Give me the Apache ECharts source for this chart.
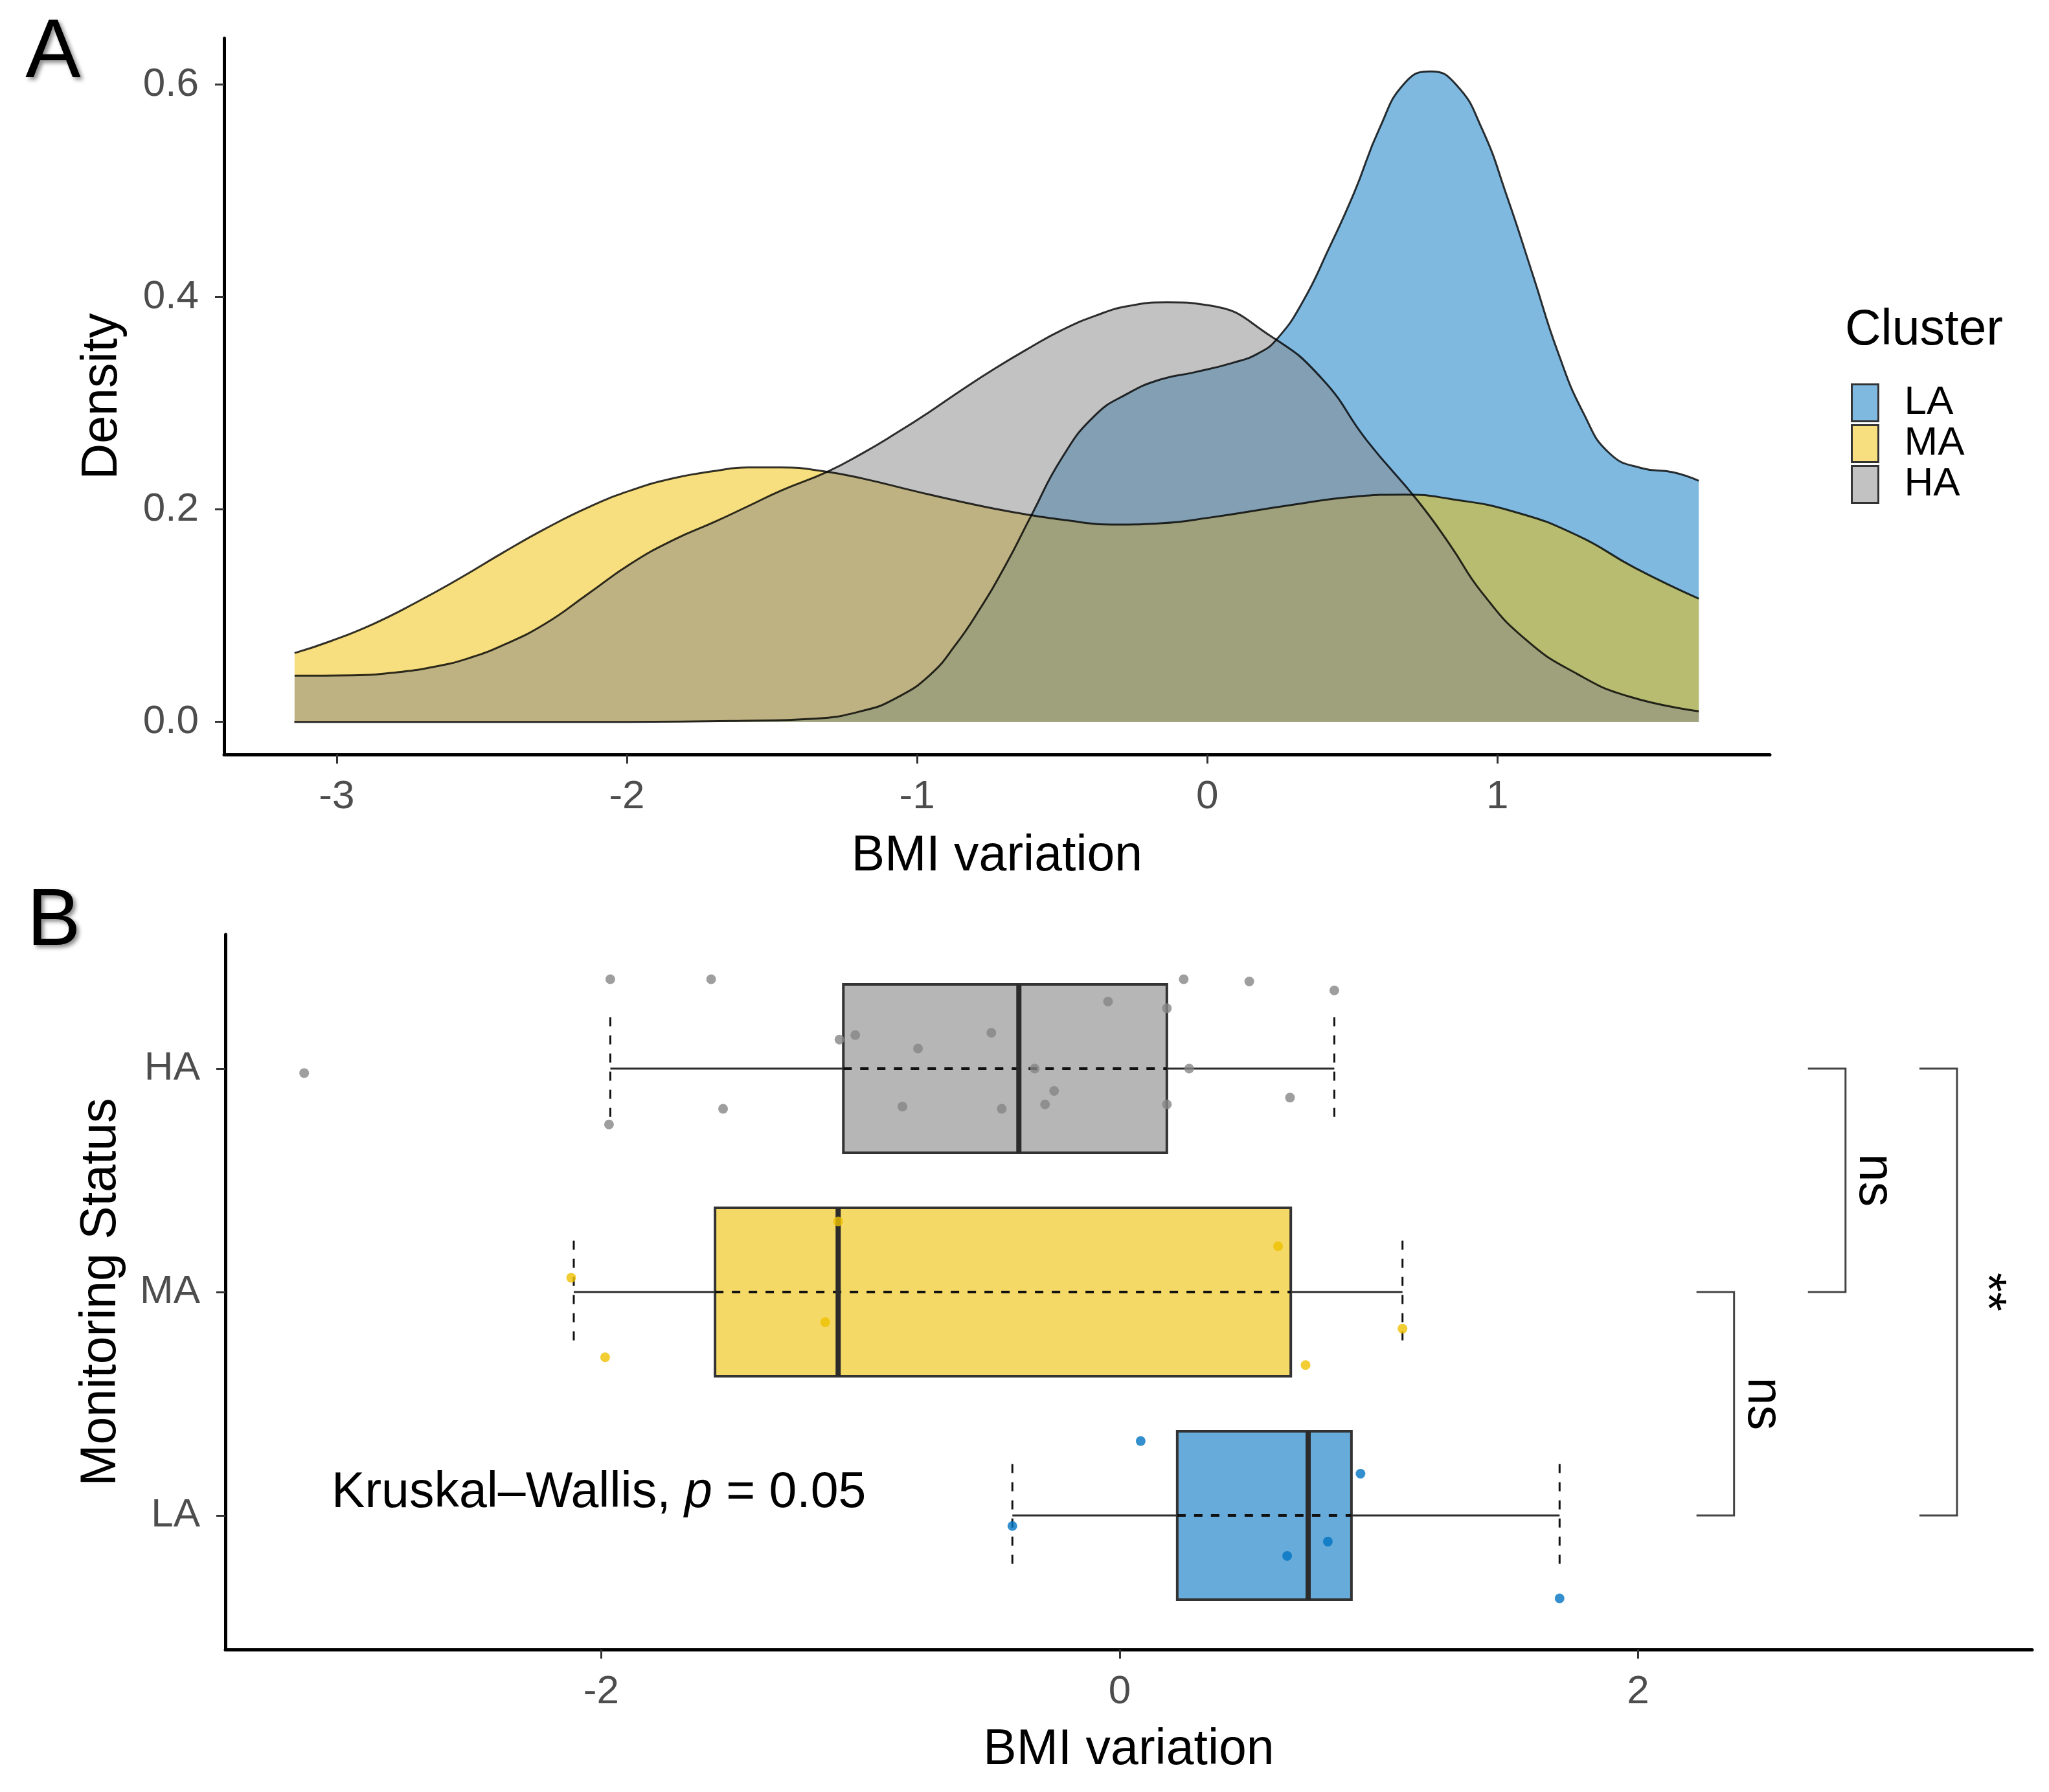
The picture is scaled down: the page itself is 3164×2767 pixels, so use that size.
<!DOCTYPE html>
<html>
<head>
<meta charset="utf-8">
<script src="https://cdn.jsdelivr.net/npm/echarts@6/dist/echarts.min.js"></script>
<style>
  html, body { margin: 0; padding: 0; background: #fff; }
  #chart { width: 3164px; height: 2767px; }
</style>
</head>
<body>
<div id="chart"></div>
<script>
// ---- panel A: density curves ----
const laX = [-3.146, -2.5, -2.0, -1.6, -1.356, -1.185, -1.071, -0.957, -0.866, -0.787, -0.696, -0.605, -0.502, -0.389, -0.275, -0.161, -0.047, 0.087, 0.176, 0.242, 0.33, 0.418, 0.506, 0.594, 0.682, 0.77, 0.858, 0.946, 1.034, 1.122, 1.21, 1.298, 1.386, 1.496, 1.606, 1.694];
const laY = [0, 0, 0, 0.001, 0.003, 0.0106, 0.0226, 0.0438, 0.073, 0.1048, 0.147, 0.195, 0.248, 0.288, 0.309, 0.3224, 0.329, 0.338, 0.347, 0.361, 0.396, 0.445, 0.498, 0.559, 0.602, 0.6125, 0.6, 0.559, 0.494, 0.421, 0.347, 0.29, 0.253, 0.239, 0.235, 0.227];
const maX = [-3.145, -3.021, -2.873, -2.725, -2.577, -2.429, -2.282, -2.133, -1.986, -1.838, -1.697, -1.583, -1.469, -1.31, -1.185, -1.014, -0.843, -0.673, -0.446, -0.332, -0.161, 0.01, 0.286, 0.506, 0.682, 0.836, 1.056, 1.276, 1.474, 1.694];
const maY = [0.0648, 0.076, 0.0923, 0.1126, 0.135, 0.159, 0.1817, 0.202, 0.218, 0.2295, 0.2362, 0.2396, 0.2396, 0.2354, 0.229, 0.2177, 0.207, 0.1977, 0.1884, 0.1857, 0.187, 0.1924, 0.204, 0.212, 0.214, 0.21, 0.198, 0.1755, 0.145, 0.116];
const haX = [-3.145, -2.947, -2.799, -2.651, -2.547, -2.429, -2.282, -2.133, -1.986, -1.838, -1.697, -1.583, -1.469, -1.31, -1.185, -1.071, -0.957, -0.843, -0.730, -0.616, -0.502, -0.389, -0.275, -0.138, 0.01, 0.22, 0.396, 0.55, 0.726, 0.836, 0.946, 1.10, 1.276, 1.452, 1.694];
const haY = [0.0435, 0.0439, 0.0465, 0.0526, 0.0598, 0.072, 0.0923, 0.1207, 0.149, 0.1715, 0.1884, 0.203, 0.2177, 0.2354, 0.2534, 0.272, 0.2919, 0.3131, 0.333, 0.3516, 0.3688, 0.382, 0.3914, 0.395, 0.392, 0.363, 0.323, 0.265, 0.208, 0.167, 0.122, 0.077, 0.045, 0.024, 0.010];
const densityTicksX = [-3, -2, -1, 0, 1];
const densityTicksY = [0, 0.2, 0.4, 0.6];

// ---- panel B: boxplot stats + jittered points ----
const groups = ['LA', 'MA', 'HA'];
const whiskerLow = [-0.414, -2.106, -1.965];
const q1 = [0.222, -1.561, -1.066];
const median = [0.727, -1.086, -0.389];
const q3 = [0.894, 0.66, 0.182];
const whiskerHigh = [1.697, 1.091, 0.828];

const laPtsX = [0.081, 0.929, -0.414, 0.803, 0.646, 1.697];
const laPtsY = [1.333, 1.187, 0.953, 0.883, 0.819, 0.629];
const maPtsX = [-2.116, -1.985, -1.136, -1.086, 0.611, 0.717, 1.091];
const maPtsY = [2.064, 1.708, 1.865, 2.316, 2.205, 1.673, 1.836];
const haPtsX = [-1.965, -1.576, -3.146, -1.530, -1.970, -1.081, -1.020, -0.778, -0.838, -0.495, -0.455, -0.328, -0.288, -0.253, -0.045, 0.182, 0.182, 0.247, 0.268, 0.5, 0.657, 0.828];
const haPtsY = [3.40, 3.40, 2.98, 2.82, 2.75, 3.13, 3.15, 3.09, 2.83, 3.16, 2.82, 3.00, 2.84, 2.90, 3.30, 3.27, 2.84, 3.40, 3.00, 3.39, 2.87, 3.35];
const boxTicksX = [-2, 0, 2];

// pairwise comparisons
const bracketLow = [1, 2, 1];
const bracketHigh = [2, 3, 3];
const bracketX = [2.37, 2.80, 3.23];
const bracketLabels = ['ns', 'ns', '**'];

const FONT = 'Liberation Sans, Arial, sans-serif';
const densityFill = { LA: 'rgba(0,115,194,0.5)', MA: 'rgba(239,192,0,0.5)', HA: 'rgba(134,134,134,0.5)' };
const legendFill = { LA: '#7FB9E0', MA: '#F7DF7F', HA: '#C2C2C2' };
const boxFill = ['#66ABDA', '#F5D966', '#B6B6B6'];
const pointColor = ['#0073C2', '#EFC000', '#868686'];

const zip = (xs, ys) => xs.map((x, i) => [x, ys[i]]);

const chart = echarts.init(document.getElementById('chart'));

function axisCommon(extra) {
  return Object.assign({
    axisLine: { onZero: false, lineStyle: { color: '#000', width: 5 } },
    splitLine: { show: false },
    nameLocation: 'middle',
    nameTextStyle: { fontSize: 77, color: '#000', fontFamily: FONT }
  }, extra);
}

function ticks(values) {
  return { show: true, length: 14, lineStyle: { color: '#333', width: 3 }, customValues: values };
}

function densitySeries(name, xs, ys) {
  return {
    name: name,
    type: 'line',
    xAxisIndex: 0,
    yAxisIndex: 0,
    smooth: 0.5,
    showSymbol: false,
    symbol: 'none',
    data: zip(xs, ys),
    lineStyle: { color: 'rgba(0,0,0,0.8)', width: 3 },
    itemStyle: { color: legendFill[name] },
    areaStyle: { color: densityFill[name], opacity: 1 },
    silent: true
  };
}

function renderBox(params, api) {
  const cat = api.value(0);
  const lo = api.value(1), a = api.value(2), med = api.value(3), b = api.value(4), hi = api.value(5);
  const half = 0.377, cap = 0.23;
  const pLo = api.coord([lo, cat]);
  const pHi = api.coord([hi, cat]);
  const pA = api.coord([a, cat]);
  const pB = api.coord([b, cat]);
  const pM = api.coord([med, cat]);
  const top = api.coord([a, cat + half])[1];
  const bot = api.coord([a, cat - half])[1];
  const capTop = api.coord([lo, cat + cap])[1];
  const capBot = api.coord([lo, cat - cap])[1];
  const dark = '#2b2b2b';
  return {
    type: 'group',
    children: [
      { type: 'line', shape: { x1: pLo[0], y1: pLo[1], x2: pA[0], y2: pA[1] }, style: { stroke: dark, lineWidth: 3 } },
      { type: 'line', shape: { x1: pB[0], y1: pB[1], x2: pHi[0], y2: pHi[1] }, style: { stroke: dark, lineWidth: 3 } },
      { type: 'line', shape: { x1: pLo[0], y1: capTop, x2: pLo[0], y2: capBot }, style: { stroke: '#111', lineWidth: 3, lineDash: [14, 14] } },
      { type: 'line', shape: { x1: pHi[0], y1: capTop, x2: pHi[0], y2: capBot }, style: { stroke: '#111', lineWidth: 3, lineDash: [14, 14] } },
      { type: 'rect', shape: { x: pA[0], y: top, width: pB[0] - pA[0], height: bot - top }, style: { fill: boxFill[params.dataIndex], stroke: '#333', lineWidth: 4 } },
      { type: 'line', shape: { x1: pA[0], y1: pA[1], x2: pB[0], y2: pB[1] }, style: { stroke: '#111', lineWidth: 4, lineDash: [13, 13] } },
      { type: 'line', shape: { x1: pM[0], y1: top, x2: pM[0], y2: bot }, style: { stroke: '#2b2b2b', lineWidth: 8 } }
    ]
  };
}

function renderBracket(params, api) {
  const x = api.value(0), lo = api.value(1), hi = api.value(2);
  const tick = 0.145;
  const p1 = api.coord([x - tick, lo]);
  const p2 = api.coord([x, lo]);
  const p3 = api.coord([x, hi]);
  const p4 = api.coord([x - tick, hi]);
  const pt = api.coord([x + 0.012, (lo + hi) / 2]);
  return {
    type: 'group',
    children: [
      { type: 'polyline', shape: { points: [p1, p2, p3, p4] }, style: { stroke: '#444', lineWidth: 3, fill: null } },
      {
        type: 'text', x: pt[0], y: pt[1], rotation: -Math.PI / 2,
        style: {
          text: bracketLabels[params.dataIndex], fontSize: 77, fontFamily: FONT, fill: '#000',
          align: 'center', verticalAlign: 'bottom', lineHeight: 77
        }
      }
    ]
  };
}

function renderTestLabel(params, api) {
  const p = api.coord([api.value(0), api.value(1)]);
  return {
    type: 'text', x: p[0], y: p[1],
    style: {
      text: '{n|Kruskal–Wallis, }{i|p}{n| = 0.05}',
      fontSize: 77, fontFamily: FONT, fill: '#000',
      align: 'left', verticalAlign: 'middle',
      rich: {
        n: { fontSize: 77, fontFamily: FONT, fill: '#000' },
        i: { fontSize: 77, fontFamily: FONT, fill: '#000', fontStyle: 'italic' }
      }
    }
  };
}

const option = {
  animation: false,
  backgroundColor: '#fff',
  textStyle: { fontFamily: FONT },
  grid: [
    { left: 346, right: 431, top: 59, bottom: 1602 },
    { left: 348, right: 26, top: 1443, bottom: 220 }
  ],
  xAxis: [
    axisCommon({
      gridIndex: 0, type: 'value', min: -3.388, max: 1.939,
      name: 'BMI variation', nameGap: 119,
      axisTick: ticks(densityTicksX),
      axisLabel: { customValues: densityTicksX, fontSize: 62, color: '#4D4D4D', fontFamily: FONT, margin: 35, formatter: v => String(v) }
    }),
    axisCommon({
      gridIndex: 1, type: 'value', min: -3.45, max: 3.52,
      name: 'BMI variation', nameGap: 117,
      axisTick: ticks(boxTicksX),
      axisLabel: { customValues: boxTicksX, fontSize: 62, color: '#4D4D4D', fontFamily: FONT, margin: 35, formatter: v => String(v) }
    })
  ],
  yAxis: [
    axisCommon({
      gridIndex: 0, type: 'value', min: -0.0307, max: 0.6437,
      name: 'Density', nameGap: 149,
      axisTick: ticks(densityTicksY),
      axisLabel: { customValues: densityTicksY, fontSize: 62, color: '#4D4D4D', fontFamily: FONT, margin: 39, formatter: v => v.toFixed(1) }
    }),
    axisCommon({
      gridIndex: 1, type: 'value', min: 0.4, max: 3.6,
      name: 'Monitoring Status', nameGap: 153,
      axisTick: ticks([1, 2, 3]),
      axisLabel: { customValues: [1, 2, 3], fontSize: 62, color: '#4D4D4D', fontFamily: FONT, margin: 39, formatter: v => groups[Math.round(v) - 1] }
    })
  ],
  legend: {
    orient: 'vertical',
    left: 2853,
    top: 586,
    itemWidth: 41,
    itemHeight: 57,
    itemGap: 1,
    icon: 'rect',
    selectedMode: false,
    textStyle: { fontSize: 62, color: '#000', fontFamily: FONT, lineHeight: 57, padding: [0, 0, 0, 35] },
    data: groups.map(g => ({
      name: g,
      icon: 'rect',
      itemStyle: { color: legendFill[g], borderColor: '#333', borderWidth: 3, opacity: 1 }
    }))
  },
  graphic: [
    { type: 'text', x: 2849, y: 511, style: { text: 'Cluster', fontSize: 77, fontFamily: FONT, fill: '#000', verticalAlign: 'middle', align: 'left' } },
    { type: 'text', x: 82, y: 84, style: { text: 'A', fontSize: 128, fontFamily: FONT, fill: '#000', align: 'center', verticalAlign: 'middle', textShadowColor: 'rgba(0,0,0,0.45)', textShadowBlur: 6, textShadowOffsetX: 4, textShadowOffsetY: 4 } },
    { type: 'text', x: 83, y: 1425, style: { text: 'B', fontSize: 124, fontFamily: FONT, fill: '#000', align: 'center', verticalAlign: 'middle', textShadowColor: 'rgba(0,0,0,0.45)', textShadowBlur: 6, textShadowOffsetX: 4, textShadowOffsetY: 4 } }
  ],
  series: [
    densitySeries('LA', laX, laY),
    densitySeries('MA', maX, maY),
    densitySeries('HA', haX, haY),
    {
      type: 'custom',
      xAxisIndex: 1, yAxisIndex: 1,
      renderItem: renderBox,
      clip: false,
      encode: { x: [1, 2, 3, 4, 5], y: 0 },
      data: groups.map((g, i) => [i + 1, whiskerLow[i], q1[i], median[i], q3[i], whiskerHigh[i]]),
      silent: true
    },
    {
      type: 'scatter', xAxisIndex: 1, yAxisIndex: 1, symbolSize: 15,
      itemStyle: { color: pointColor[0] }, data: zip(laPtsX, laPtsY), silent: true
    },
    {
      type: 'scatter', xAxisIndex: 1, yAxisIndex: 1, symbolSize: 15,
      itemStyle: { color: pointColor[1] }, data: zip(maPtsX, maPtsY), silent: true
    },
    {
      type: 'scatter', xAxisIndex: 1, yAxisIndex: 1, symbolSize: 15,
      itemStyle: { color: pointColor[2] }, data: zip(haPtsX, haPtsY), silent: true
    },
    {
      type: 'custom',
      xAxisIndex: 1, yAxisIndex: 1,
      renderItem: renderBracket,
      clip: false,
      encode: { x: 0, y: [1, 2] },
      data: bracketX.map((x, i) => [x, bracketLow[i], bracketHigh[i]]),
      silent: true
    },
    {
      type: 'custom',
      xAxisIndex: 1, yAxisIndex: 1,
      renderItem: renderTestLabel,
      clip: false,
      encode: { x: 0, y: 1 },
      data: [[-3.04, 1.099]],
      silent: true
    }
  ]
};

chart.setOption(option);
</script>
</body>
</html>
